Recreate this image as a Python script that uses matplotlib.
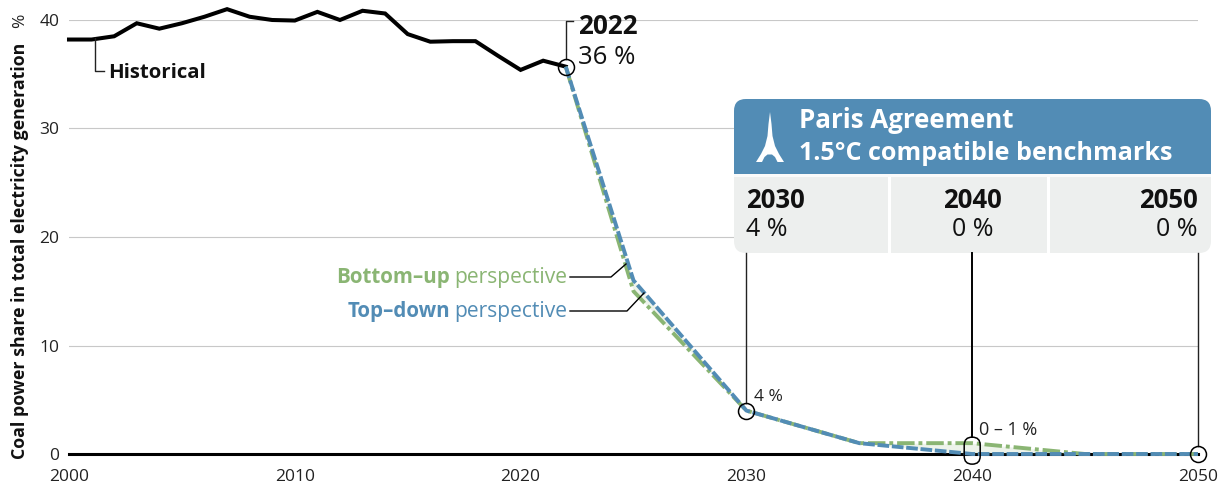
import matplotlib
matplotlib.use("Agg")
from matplotlib import pyplot as plt
from matplotlib.patches import FancyBboxPatch, Polygon, Rectangle
import numpy as np

plt.rcParams['font.family'] = ['Open Sans', 'DejaVu Sans']

# data
hist_years = list(range(2000, 2023))
hist_share = [38.2, 38.2, 38.5, 39.7, 39.2, 39.7, 40.3, 41.0, 40.3, 40.0, 39.95, 40.75,
              40.0, 40.85, 40.6, 38.7, 38.0, 38.05, 38.05, 36.7, 35.4, 36.25, 35.7]
scen_years = [2022, 2025, 2030, 2035, 2040, 2045, 2050]
bottom_up = [35.7, 15.0, 4.0, 1.0, 1.0, 0.0, 0.0]
top_down = [35.7, 16.0, 4.0, 1.0, 0.0, 0.0, 0.0]
y_ticks = [0, 10, 20, 30, 40]
x_ticks = [2000, 2010, 2020, 2030, 2040, 2050]
bench_years = ['2030', '2040', '2050']
bench_values = ['4 %', '0 %', '0 %']

BLUE = '#528cb5'
GREEN = '#8ab573'
W, H = 1225, 484
X0, X1, Y0, Y40 = 69, 1198, 454, 20

fig = plt.figure(figsize=(W / 100, H / 100), dpi=100)
ax = fig.add_axes([X0 / W, 1 - Y0 / H, (X1 - X0) / W, (Y0 - Y40) / H])
ax.set_xlim(2000, 2050)
ax.set_ylim(0, 40)
ax.patch.set_alpha(0)
for s in ax.spines.values():
    s.set_visible(False)
ax.set_xticks(x_ticks)
ax.set_yticks(y_ticks)
ax.tick_params(length=0, labelsize=12.5, colors='#222222')
ax.tick_params(axis='y', pad=7)
ax.tick_params(axis='x', pad=11)
ax.grid(axis='y', color='#c8c8c8', linewidth=0.8)
ax.set_axisbelow(True)

# main lines
ax.axhline(0, color='black', linewidth=2.2, zorder=2, clip_on=False)
ax.plot(hist_years, hist_share, color='black', linewidth=2.9, clip_on=False, zorder=4,
        solid_joinstyle='miter')
ax.fill_between(scen_years, bottom_up, top_down, color=GREEN, alpha=0.15, linewidth=0, zorder=3)
ax.plot(scen_years, bottom_up, color=GREEN, linewidth=2.8, clip_on=False, zorder=5,
        linestyle=(0, (4.5, 1.0, 1.0, 1.0)))
ax.plot(scen_years, top_down, color=BLUE, linewidth=2.8, clip_on=False, zorder=6,
        linestyle=(0, (3.0, 0.7)))

# overlay in pixels for the panel and annotations
ov = fig.add_axes([0, 0, 1, 1])
ov.set_xlim(0, W)
ov.set_ylim(H, 0)
ov.axis('off')
ov.patch.set_alpha(0)


def px(year):
    return X0 + (year - 2000) * (X1 - X0) / 50


def py(val):
    return Y0 - val * (Y0 - Y40) / 40


# leader lines
ov.plot([95, 95, 104], [38, 71, 71], color='#222222', lw=1)
ov.plot([566, 566, 573], [py(35.7) - 8, 21, 21], color='#222222', lw=1)
ov.plot([570, 611, 626], [277, 277, 264], color='black', lw=1)
ov.plot([570, 627, 644], [311, 311, 293], color='black', lw=1)
ov.plot([px(2030)] * 2, [253, py(4) - 8], color='#222222', lw=1)
ov.plot([px(2040)] * 2, [253, py(1) - 6], color='black', lw=1.4)
ov.plot([px(2050)] * 2, [253, py(0) - 8], color='#222222', lw=1)

# rings around the key points
for yr, val in [(2022, 35.7), (2030, 4), (2050, 0)]:
    ov.plot(px(yr), py(val), 'o', ms=11.5, mfc='none', mec='black', mew=1.1, zorder=8)
ov.add_patch(FancyBboxPatch((px(2040) - 8 + 4, py(1) - 6 + 4), 8, 27 - 8,
                            boxstyle='round,pad=4,rounding_size=8', fc='none', ec='black', lw=1.1, zorder=8))

# panel
ov.add_patch(FancyBboxPatch((734 + 12, 99 + 12), 477 - 24, 154 - 24, boxstyle='round,pad=12,rounding_size=12',
                            fc='#edefee', ec='none', zorder=1))
head = FancyBboxPatch((734 + 12, 99 + 12), 477 - 24, 100, boxstyle='round,pad=12,rounding_size=12',
                      fc=BLUE, ec='none', zorder=2)
ov.add_patch(head)
head.set_clip_path(Rectangle((734, 99), 477, 75, transform=ov.transData))
ov.add_patch(Rectangle((734, 174), 477, 3, fc='white', ec='none', alpha=0.75, zorder=3))
ov.add_patch(Rectangle((888, 177), 3, 76, fc='white', ec='none', zorder=3))
ov.add_patch(Rectangle((1047, 177), 3, 76, fc='white', ec='none', zorder=3))

# eiffel tower
tower = [(770, 112), (771.5, 124), (772.5, 136), (775, 146), (779, 154), (784, 162), (777.5, 162),
         (775, 157), (772, 154.5), (767.5, 154.5), (764.5, 157), (762, 162), (756, 162), (761, 154),
         (765, 146), (767.5, 136), (768.5, 124)]
ov.add_patch(Polygon(tower, closed=True, fc='white', ec='none', zorder=4))

ov.text(799, 121, 'Paris Agreement', color='white', fontsize=18.6, fontweight='bold', va='center', zorder=5)
ov.text(799, 153, '1.5°C compatible benchmarks', color='white', fontsize=18.1, fontweight='bold', va='center', zorder=5)

cell_x = [746, 1002, 1198]
cell_ha = ['left', 'right', 'right']
val_x = [746, 994, 1198]
for i in range(3):
    ov.text(cell_x[i], 201, bench_years[i], fontsize=18.5, fontweight='bold', ha=cell_ha[i], va='center',
            color='#111111', zorder=5)
    ov.text(val_x[i], 230, bench_values[i], fontsize=18, ha=cell_ha[i], va='center', color='#111111', zorder=5)

# text labels
ov.text(108, 73, 'Historical', fontsize=14.7, fontweight='bold', va='center', color='#111111')
ov.text(578, 26, '2022', fontsize=18.8, fontweight='bold', va='center', color='#111111')
ov.text(578, 58, '36 %', fontsize=18.5, va='center', color='#111111')
ov.text(754, 397, '4 %', fontsize=12.5, va='center', color='#222222')
ov.text(979, 430, '0 – 1 %', fontsize=13, va='center', color='#222222')

ov.text(567, 277, 'perspective', fontsize=15.2, color=GREEN, ha='right', va='center')
ov.text(450, 277, 'Bottom–up', fontsize=14.8, color=GREEN, ha='right', va='center', fontweight='bold')
ov.text(567, 311, 'perspective', fontsize=15.2, color=BLUE, ha='right', va='center')
ov.text(450, 311, 'Top–down', fontsize=14.8, color=BLUE, ha='right', va='center', fontweight='bold')

ov.text(20.5, 459, 'Coal power share in total electricity generation', rotation=90, fontsize=12.8, fontweight='bold',
        ha='center', va='bottom', color='#111111')
ov.text(20, 21, '%', rotation=90, fontsize=12.5, ha='center', va='center', color='#222222')

plt.savefig('out.png', dpi=100)
